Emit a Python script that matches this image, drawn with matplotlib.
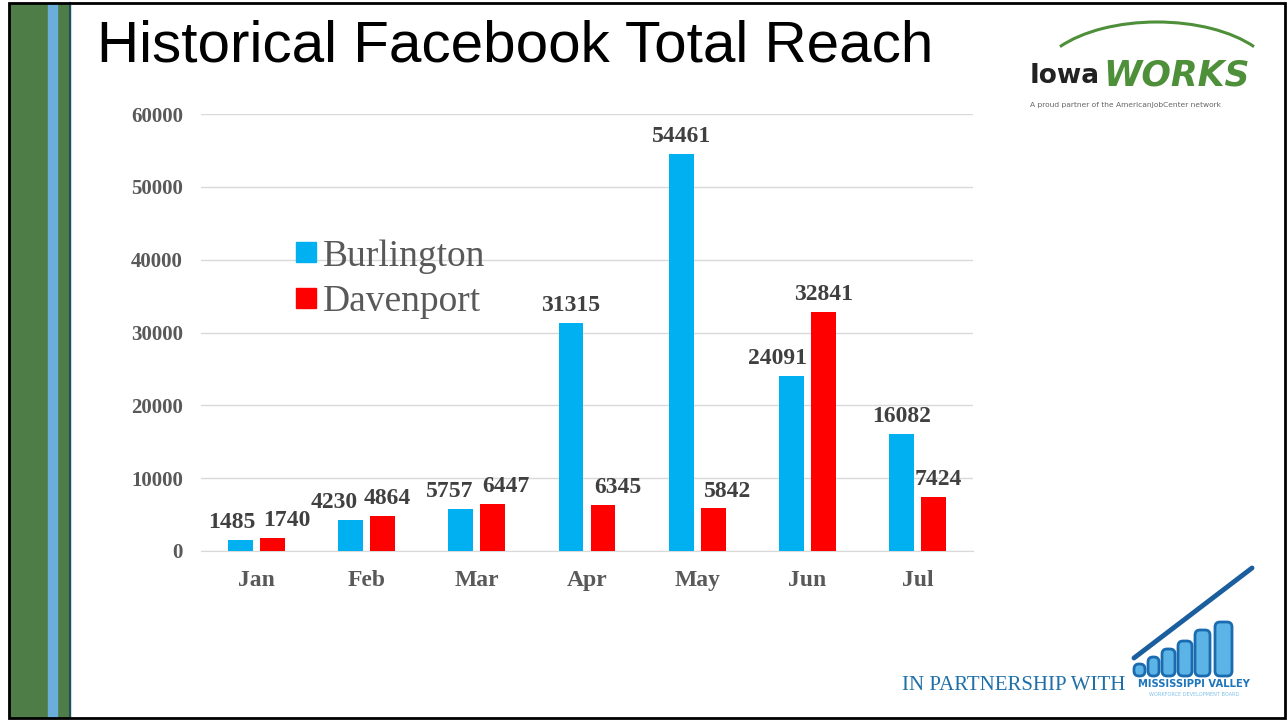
"""
Historical Facebook total reach, Burlington vs Davenport, by month.
"""

import matplotlib.pyplot as plt
from matplotlib.lines import Line2D
from matplotlib.patches import Rectangle, FancyBboxPatch, Arc
import numpy as np

months = ["Jan", "Feb", "Mar", "Apr", "May", "Jun", "Jul"]
burlington = [1485, 4230, 5757, 31315, 54461, 24091, 16082]
davenport = [1740, 4864, 6447, 6345, 5842, 32841, 7424]
yticks = [0, 10000, 20000, 30000, 40000, 50000, 60000]

# sideways nudges of the data labels (pixels), as placed in the slide
blue_nudge = [-8, -16, -11, 0, 0, -14, 0]
red_nudge = [15, 5, 13, 15, 14, 0, 4]

BLUE = "#00B0F0"
RED = "#FF0000"
GREEN = "#4F7D48"
SERIF = "Liberation Serif"
SANS = "Liberation Sans"

W, H = 1288, 721
fig = plt.figure(figsize=(W / 100, H / 100), dpi=100)

# background / decoration layer in pixel coordinates
bg = fig.add_axes([0, 0, 1, 1])
bg.set_xlim(0, W)
bg.set_ylim(H, 0)
bg.axis("off")
bg.add_patch(Rectangle((9, 3), 61, H - 6, color=GREEN, zorder=1))
bg.add_patch(Rectangle((48, 3), 9, H - 6, color="#6AAEDC", zorder=2))
bg.plot([70, 70], [3, H - 3], color="#1F4E5F", lw=1.5, zorder=3)
bg.add_patch(Rectangle((9, 3), W - 12, H - 6, fill=False,
                       edgecolor="black", lw=2, zorder=4))

bg.text(97, 47, "Historical Facebook Total Reach", family=SANS,
        fontsize=42, color="black", va="center", ha="left")

# IowaWORKS logo
bg.add_patch(Arc((1157, 82), 240, 120, theta1=200, theta2=340,
                 color="#4E8F3A", lw=2.2))
bg.text(1030, 76, "Iowa", family="DejaVu Sans", fontsize=19,
        fontweight="bold", color="#222222", va="center")
bg.text(1103, 75, "WORKS", family="DejaVu Sans", fontsize=25,
        fontweight="bold", style="italic", color="#4E8F3A", va="center")
bg.text(1030, 105, "A proud partner of the AmericanJobCenter network",
        family="DejaVu Sans", fontsize=5.4, color="#666666", va="center")

# Mississippi Valley logo
bar_x = [1134, 1148, 1162, 1178, 1195, 1215]
bar_w = [11, 11, 13, 14, 15, 17]
bar_top = [664, 657, 649, 641, 630, 622]
for x0, bw, top in zip(bar_x, bar_w, bar_top):
    bg.add_patch(FancyBboxPatch((x0, top), bw, 676 - top,
                                boxstyle="round,pad=0,rounding_size=5",
                                facecolor="#5BB4E5", edgecolor="#1A6BB0",
                                lw=2, zorder=5))
bg.plot([1134, 1252], [658, 568], color="#1A5E9E", lw=3.5,
        solid_capstyle="round", zorder=6)
bg.text(1194, 684, "MISSISSIPPI VALLEY", family="DejaVu Sans",
        fontsize=7.2, fontweight="bold", color="#1D75BC",
        ha="center", va="center", zorder=6)
bg.text(1194, 694, "WORKFORCE DEVELOPMENT BOARD", family="DejaVu Sans",
        fontsize=3.6, color="#7FC1EA", ha="center", va="center", zorder=6)
bg.text(902, 685, "IN PARTNERSHIP WITH", family=SERIF, fontsize=15,
        color="#1F6FA8", ha="left", va="center")

# chart
ax = fig.add_axes([201 / W, 170 / H, 772 / W, 437 / H])
ax.set_facecolor("none")
x = np.arange(len(months))
width = 0.225
off = 0.145
ax.bar(x - off, burlington, width, color=BLUE, zorder=3)
ax.bar(x + off, davenport, width, color=RED, zorder=3)

ax.set_xlim(-0.5, len(months) - 0.5)
ax.set_ylim(0, 60000)
ax.set_yticks(yticks)
ax.set_yticklabels([str(v) for v in yticks], family=SERIF,
                   fontweight="bold", fontsize=15, color="#595959")
ax.set_xticks(x)
ax.set_xticklabels(months, family=SERIF, fontweight="bold",
                   fontsize=17, color="#595959")
ax.tick_params(length=0)
ax.tick_params(axis="y", pad=13)
ax.tick_params(axis="x", pad=14)
ax.grid(axis="y", color="#D9D9D9", lw=1)
ax.set_axisbelow(True)
for s in ["top", "right", "left"]:
    ax.spines[s].set_visible(False)
ax.spines["bottom"].set_color("#D9D9D9")

# data labels
for i, (b, d) in enumerate(zip(burlington, davenport)):
    for val, pos, nudge in [(b, i - off, blue_nudge[i]),
                            (d, i + off, red_nudge[i])]:
        ax.annotate(str(val), (pos, val),
                    xytext=(nudge * 0.72, 5), textcoords="offset points",
                    ha="center", va="bottom", family=SERIF,
                    fontweight="bold", fontsize=17, color="#404040")

handles = [
    Line2D([], [], marker="s", ls="none", markersize=14,
           markerfacecolor=BLUE, markeredgecolor=BLUE),
    Line2D([], [], marker="s", ls="none", markersize=14,
           markerfacecolor=RED, markeredgecolor=RED),
]
leg = fig.legend(handles, ["Burlington", "Davenport"],
                 loc="upper left", bbox_to_anchor=(280 / W, 1 - 224 / H),
                 frameon=False, handlelength=0.6, handletextpad=0.15,
                 labelspacing=0.3, borderaxespad=0,
                 prop={"family": SERIF, "size": 27})
for t in leg.get_texts():
    t.set_color("#595959")

fig.savefig("out.png", dpi=100)
